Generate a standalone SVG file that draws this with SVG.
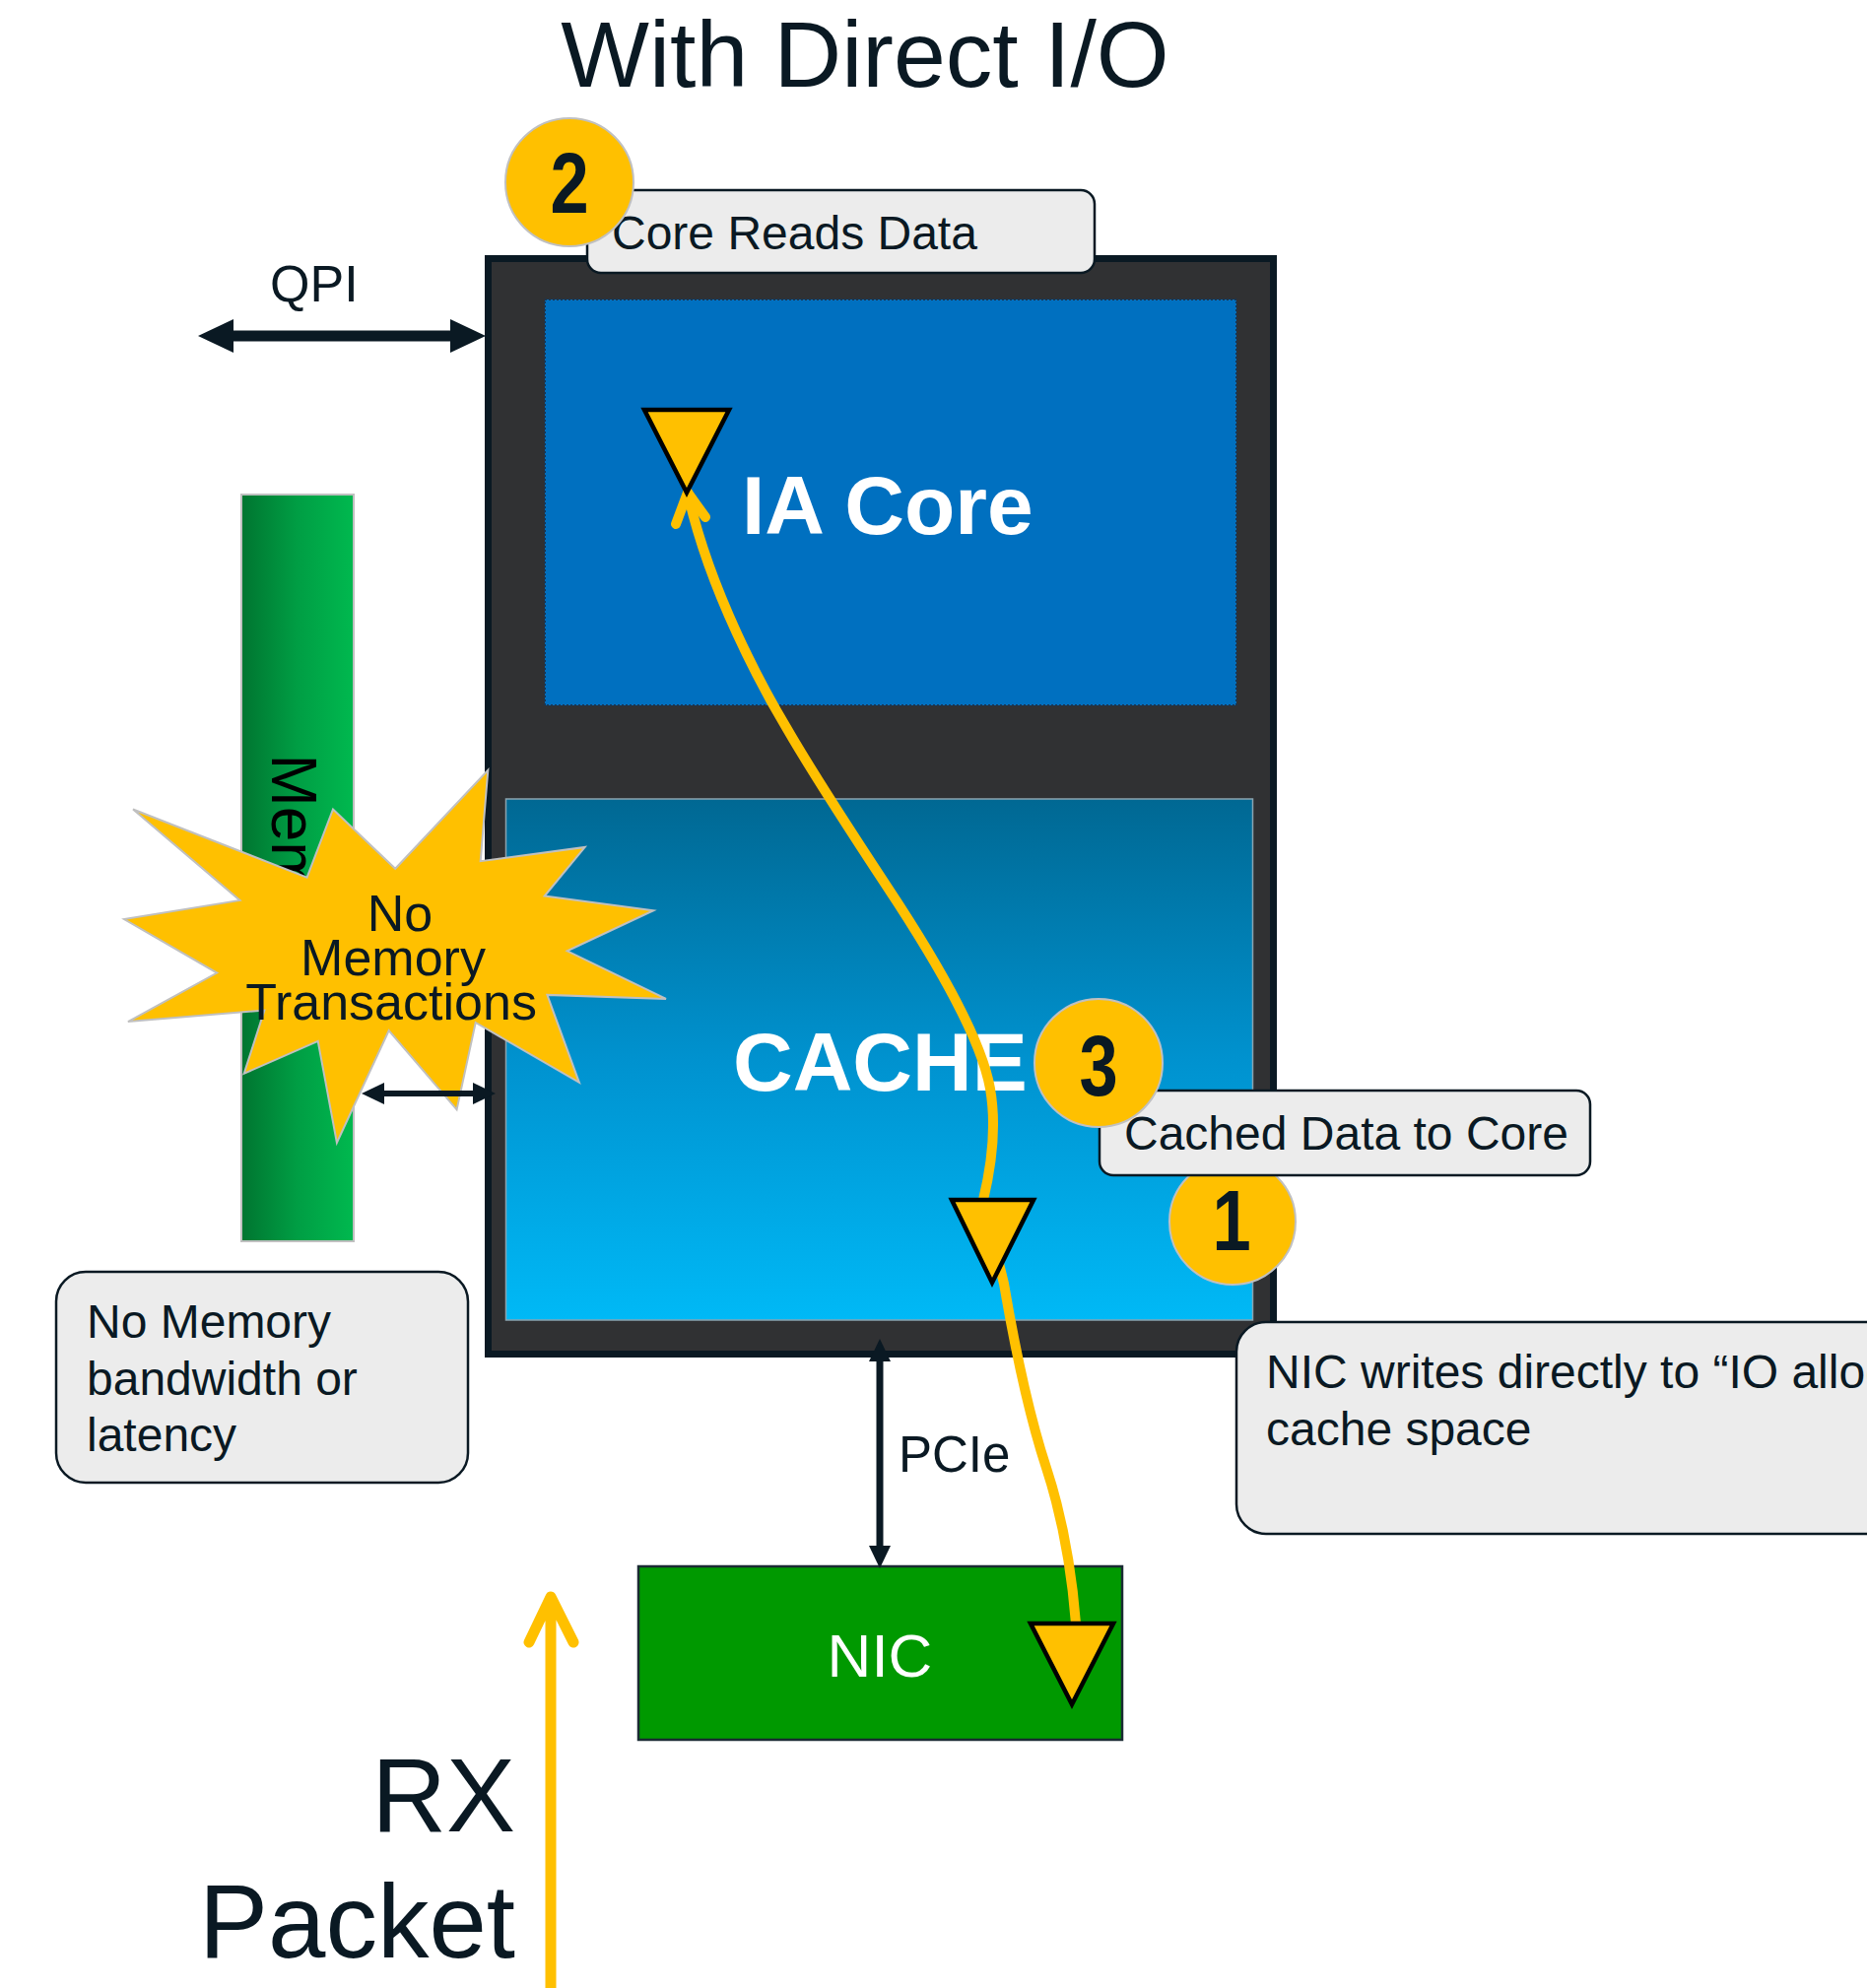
<svg xmlns="http://www.w3.org/2000/svg" width="1895" height="2018" viewBox="0 0 1895 2018">
<defs>
<style>
.t{font-family:"Liberation Sans",Arial,Helvetica,sans-serif;fill:#0a1923}
.w{font-family:"Liberation Sans",Arial,Helvetica,sans-serif;fill:#ffffff}
.num{font-family:"Liberation Sans",Arial,sans-serif;font-weight:bold;font-size:88px;fill:#0a1923;text-anchor:middle}
.callout{fill:#ececec;stroke:#0a1923;stroke-width:2.5}
.badge{fill:#ffc000;stroke:#c0c0c0;stroke-width:2}
.tri{fill:#ffc000;stroke:#000000;stroke-width:4.5;stroke-linejoin:miter}
.flow{fill:none;stroke:#ffc000;stroke-width:10;stroke-linecap:round;stroke-linejoin:round}
.dark{fill:none;stroke:#0a1923}
</style>
<linearGradient id="gCache" x1="0" y1="0" x2="0" y2="1">
<stop offset="0" stop-color="#006893"/>
<stop offset="0.5" stop-color="#0092cf"/>
<stop offset="1" stop-color="#00b9f6"/>
</linearGradient>
<linearGradient id="gMem" x1="0" y1="0" x2="1" y2="0">
<stop offset="0" stop-color="#007530"/>
<stop offset="0.5" stop-color="#009e44"/>
<stop offset="1" stop-color="#00b94f"/>
</linearGradient>
<marker id="aBig" markerUnits="userSpaceOnUse" markerWidth="36" markerHeight="34" viewBox="0 0 36 34" refX="16" refY="17" orient="auto-start-reverse">
<path d="M0,0 L36,17 L0,34 Z" fill="#0a1923"/>
</marker>
<marker id="aSmall" markerUnits="userSpaceOnUse" markerWidth="23" markerHeight="22" viewBox="0 0 23 22" refX="10" refY="11" orient="auto-start-reverse">
<path d="M0,0 L23,11 L0,22 Z" fill="#0a1923"/>
</marker>
</defs>

<rect x="0" y="0" width="1895" height="2018" fill="#ffffff"/>

<g id="title">
<text class="t" x="878" y="88" font-size="95" text-anchor="middle">With Direct I/O</text>
</g>

<g id="memory">
<rect x="245" y="502" width="114" height="758" fill="url(#gMem)" stroke="#c0c0c0" stroke-width="2"/>
<text transform="translate(276,881) rotate(90)" font-family="Liberation Sans,Arial,sans-serif" font-size="64" fill="#000000" text-anchor="middle">Memory</text>
</g>

<g id="cpu">
<rect x="495.5" y="262.5" width="797" height="1112" fill="#303133" stroke="#0a1923" stroke-width="7"/>
</g>

<g id="ia-core">
<rect x="553" y="304" width="702" height="412" fill="#0070c0" stroke="#1b3550" stroke-width="2" stroke-dasharray="2 2"/>
<text class="w" x="753" y="542" font-size="84" font-weight="bold">IA Core</text>
</g>

<g id="cache">
<rect x="513.5" y="811" width="758" height="529" fill="url(#gCache)" stroke="#8aa4b0" stroke-width="1.5"/>
<text class="w" x="744" y="1107" font-size="84" font-weight="bold">CACHE</text>
</g>

<g id="nic">
<rect x="648" y="1590" width="491" height="176" fill="#009900" stroke="#1a2a33" stroke-width="2.5"/>
<text class="w" x="893" y="1702" font-size="62" text-anchor="middle">NIC</text>
</g>

<g id="starburst">
<polygon points="135,821.5 311.6,890.7 338,821.5 401.2,881.8 495.3,781.8 487.7,874.2 593.7,859.9 552.7,909.5 663.3,924.2 575.7,965.3 676,1013.9 555.4,1009.9 587.9,1098.8 482.7,1038 463.6,1126.4 394.7,1046 341.9,1159.9 322.7,1056.8 247.7,1089.8 268.4,1025.5 129.9,1037.1 220.2,987.6 126,933.1 243.5,913.9" fill="#ffc000" stroke="#c0c0c0" stroke-width="2" stroke-linejoin="miter"/>
<text class="t" font-size="52" text-anchor="middle" x="406" y="945">No</text>
<text class="t" font-size="52" text-anchor="middle" x="399" y="990">Memory</text>
<text class="t" font-size="52" text-anchor="middle" x="397" y="1035">Transactions</text>
</g>

<g id="connectors">
<line class="dark" x1="221" y1="341" x2="473" y2="341" stroke-width="11" marker-start="url(#aBig)" marker-end="url(#aBig)"/>
<line class="dark" x1="380" y1="1110" x2="490" y2="1110" stroke-width="6" marker-start="url(#aSmall)" marker-end="url(#aSmall)"/>
<line class="dark" x1="893" y1="1372" x2="893" y2="1579" stroke-width="7" marker-start="url(#aSmall)" marker-end="url(#aSmall)"/>
<path class="flow" d="M1092,1648 Q1085,1560 1062,1490 T1019,1303 L998,1218 C1006,1185 1012,1145 1005,1105 C997,1060 960,990 901,901 C872,857 825,785 799,740 C775,700 720,600 698,500"/>
<path class="flow" d="M686,532 L698,500 L716,525"/>
<path d="M559,2018 L559,1622 M537,1667 L559,1621 L582,1667" fill="none" stroke="#ffc000" stroke-width="11" stroke-linecap="round" stroke-linejoin="round"/>
</g>

<g id="markers-flow">
<polygon class="tri" points="654,416 740,416 697,500"/>
<polygon class="tri" points="966,1218 1049,1218 1007,1302"/>
<polygon class="tri" points="1046,1648 1130,1648 1088,1730"/>
</g>

<g id="label-qpi">
<text class="t" x="274" y="306" font-size="52">QPI</text>
</g>
<g id="label-pcie">
<text class="t" x="912" y="1494" font-size="51">PCIe</text>
</g>
<g id="label-rx">
<text class="t" font-size="105" text-anchor="end" x="523" y="1859">RX</text>
<text class="t" font-size="105" text-anchor="end" x="523" y="1987">Packet</text>
</g>

<g id="callout-core-reads">
<rect class="callout" x="596" y="193" width="515" height="84" rx="14"/>
<text class="t" x="621" y="253" font-size="48">Core Reads Data</text>
</g>
<g id="badge-2">
<circle class="badge" cx="578" cy="185" r="65"/>
<text class="num" transform="translate(578,216) scale(0.8,1)" x="0" y="0">2</text>
</g>

<g id="badge-1">
<circle class="badge" cx="1251" cy="1240" r="64"/>
<text class="num" transform="translate(1250,1269) scale(0.8,1)" x="0" y="0">1</text>
</g>
<g id="callout-cached">
<rect class="callout" x="1116" y="1107" width="498" height="86" rx="14"/>
<text class="t" x="1141" y="1167" font-size="48">Cached Data to Core</text>
</g>
<g id="badge-3">
<circle class="badge" cx="1115" cy="1079" r="65"/>
<text class="num" transform="translate(1115,1112) scale(0.8,1)" x="0" y="0">3</text>
</g>

<g id="callout-nic-writes">
<rect class="callout" x="1255" y="1342" width="760" height="215" rx="30"/>
<text class="t" font-size="48" x="1285" y="1409">NIC writes directly to “IO allocated”</text>
<text class="t" font-size="48" x="1285" y="1467">cache space</text>
</g>

<g id="callout-no-memory">
<rect class="callout" x="57" y="1291" width="418" height="214" rx="30"/>
<text class="t" font-size="48" x="88" y="1358">No Memory</text>
<text class="t" font-size="48" x="88" y="1416">bandwidth or</text>
<text class="t" font-size="48" x="88" y="1473">latency</text>
</g>
</svg>
